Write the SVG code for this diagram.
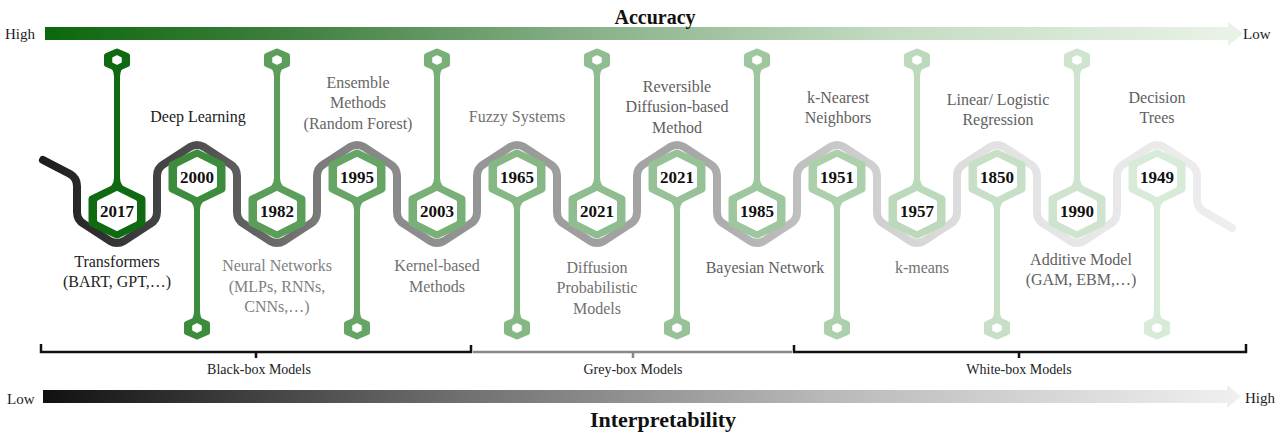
<svg xmlns="http://www.w3.org/2000/svg" xmlns:xlink="http://www.w3.org/1999/xlink" width="1284" height="437" viewBox="0 0 1284 437">
<style>
text{font-family:"Liberation Serif","Times New Roman",serif;stroke:none}
.yr{font-size:17px;font-weight:bold;fill:#111;text-anchor:middle}
.lb{font-size:16px;text-anchor:middle}
.br{font-size:14px;fill:#222;text-anchor:middle}
.end{font-size:15px;fill:#222}
.title{font-weight:bold;fill:#111;text-anchor:middle}
.ho{stroke-width:7;stroke-linejoin:round}
</style>
<defs>
<linearGradient id="gAcc" gradientUnits="userSpaceOnUse" x1="45" y1="0" x2="1243" y2="0">
<stop offset="0" stop-color="#0c680c"/><stop offset="0.2" stop-color="#3e7f3e"/><stop offset="0.45" stop-color="#88b088"/><stop offset="0.7" stop-color="#c2dbc0"/><stop offset="1" stop-color="#eaf3e8"/>
</linearGradient>
<linearGradient id="gInt" gradientUnits="userSpaceOnUse" x1="43" y1="0" x2="1241" y2="0">
<stop offset="0" stop-color="#111"/><stop offset="0.35" stop-color="#707070"/><stop offset="0.65" stop-color="#b8b8b8"/><stop offset="1" stop-color="#f0f0f0"/>
</linearGradient>
<linearGradient id="gSnake" gradientUnits="userSpaceOnUse" x1="40" y1="0" x2="1235" y2="0">
<stop offset="0" stop-color="#1c1c1c"/><stop offset="0.134" stop-color="#505050"/><stop offset="0.26" stop-color="#858585"/><stop offset="0.4" stop-color="#9a9a9a"/><stop offset="0.55" stop-color="#a8a8a8"/><stop offset="0.68" stop-color="#cccccc"/><stop offset="0.8" stop-color="#e2e2e2"/><stop offset="1" stop-color="#eeeeee"/>
</linearGradient>
<path id="hexO" class="ho" d="M0,-24 L25,-12 L25,12 L0,24 L-25,12 L-25,-12 Z"/>
<path id="hexI" fill="#fff" stroke="#fff" stroke-width="4" stroke-linejoin="round" d="M0,-18 L18,-9 L18,9 L0,18 L-18,9 L-18,-9 Z"/>
<g id="pin">
<rect x="-3" y="-146" width="6" height="126" stroke="none"/>
<path stroke="none" d="M-3,-33 Q-3,-24 -14,-19 L14,-19 Q3,-24 3,-33 Z"/>
<path stroke-width="5" stroke-linejoin="round" d="M0,-160 L10.5,-155.5 L10.5,-146.5 L0,-142 L-10.5,-146.5 L-10.5,-155.5 Z"/>
<path stroke="none" d="M-9,-146 Q-3,-142 -3,-134 L3,-134 Q3,-142 9,-146 Z"/>
<path fill="#fff" stroke="#fff" stroke-width="1.5" stroke-linejoin="round" d="M0,-155 L4,-153 L4,-149 L0,-147 L-4,-149 L-4,-153 Z"/>
</g>
</defs>
<rect width="1284" height="437" fill="#fff"/>

<g id="accuracy-axis">
<path fill="url(#gAcc)" d="M45,27 L1228,27 L1228,22 L1243,33.5 L1228,46 L1228,40 L45,40 Z"/>
<text class="title" x="655" y="24" font-size="20">Accuracy</text>
<text class="end" x="5" y="39">High</text>
<text class="end" x="1243" y="39">Low</text>
</g>

<g id="connectors">
<path fill="none" stroke="url(#gSnake)" stroke-width="8" stroke-linecap="round" stroke-linejoin="round" d="M43,160 L70,174 Q77,178 77,186 L77,212 q0,8 7,12 l26,17 q7,4 14,0 l26,-17 q7,-4 7,-12 l0,-36 q0,-8 7,-12 l26,-17 q7,-4 14,0 l26,17 q7,4 7,12 l0,36 q0,8 7,12 l26,17 q7,4 14,0 l26,-17 q7,-4 7,-12 l0,-36 q0,-8 7,-12 l26,-17 q7,-4 14,0 l26,17 q7,4 7,12 l0,36 q0,8 7,12 l26,17 q7,4 14,0 l26,-17 q7,-4 7,-12 l0,-36 q0,-8 7,-12 l26,-17 q7,-4 14,0 l26,17 q7,4 7,12 l0,36 q0,8 7,12 l26,17 q7,4 14,0 l26,-17 q7,-4 7,-12 l0,-36 q0,-8 7,-12 l26,-17 q7,-4 14,0 l26,17 q7,4 7,12 l0,36 q0,8 7,12 l26,17 q7,4 14,0 l26,-17 q7,-4 7,-12 l0,-36 q0,-8 7,-12 l26,-17 q7,-4 14,0 l26,17 q7,4 7,12 l0,36 q0,8 7,12 l26,17 q7,4 14,0 l26,-17 q7,-4 7,-12 l0,-36 q0,-8 7,-12 l26,-17 q7,-4 14,0 l26,17 q7,4 7,12 l0,36 q0,8 7,12 l26,17 q7,4 14,0 l26,-17 q7,-4 7,-12 l0,-36 q0,-8 7,-12 l26,-17 q7,-4 14,0 l26,17 q7,4 7,12 L1197,200 Q1197,207 1203,211 L1232,228"/>
</g>

<g id="n2017" fill="#0f6a12" stroke="#0f6a12">
<use xlink:href="#pin" transform="translate(117,211)"/>
<use xlink:href="#hexO" transform="translate(117,211)"/>
<use xlink:href="#hexI" transform="translate(117,211)"/>
<text class="yr" x="117" y="217">2017</text>
<text class="lb" x="117" y="267" fill="#222">Transformers</text>
<text class="lb" x="117" y="287" fill="#222">(BART, GPT,…)</text>
</g>
<g id="n2000" fill="#3d8c3d" stroke="#3d8c3d">
<use xlink:href="#pin" transform="translate(197,177) scale(1,-1)"/>
<use xlink:href="#hexO" transform="translate(197,177)"/>
<use xlink:href="#hexI" transform="translate(197,177)"/>
<text class="yr" x="197" y="183">2000</text>
<text class="lb" x="198" y="122" fill="#1a1a1a">Deep Learning</text>
</g>
<g id="n1982" fill="#5a9e5a" stroke="#5a9e5a">
<use xlink:href="#pin" transform="translate(277,211)"/>
<use xlink:href="#hexO" transform="translate(277,211)"/>
<use xlink:href="#hexI" transform="translate(277,211)"/>
<text class="yr" x="277" y="217">1982</text>
<text class="lb" x="277" y="271" fill="#808080">Neural Networks</text>
<text class="lb" x="277" y="292" fill="#808080">(MLPs, RNNs,</text>
<text class="lb" x="277" y="312" fill="#808080">CNNs,…)</text>
</g>
<g id="n1995" fill="#66a566" stroke="#66a566">
<use xlink:href="#pin" transform="translate(357,177) scale(1,-1)"/>
<use xlink:href="#hexO" transform="translate(357,177)"/>
<use xlink:href="#hexI" transform="translate(357,177)"/>
<text class="yr" x="357" y="183">1995</text>
<text class="lb" x="358" y="88" fill="#666">Ensemble</text>
<text class="lb" x="358" y="108" fill="#666">Methods</text>
<text class="lb" x="358" y="129" fill="#666">(Random Forest)</text>
</g>
<g id="n2003" fill="#78b078" stroke="#78b078">
<use xlink:href="#pin" transform="translate(437,211)"/>
<use xlink:href="#hexO" transform="translate(437,211)"/>
<use xlink:href="#hexI" transform="translate(437,211)"/>
<text class="yr" x="437" y="217">2003</text>
<text class="lb" x="437" y="271" fill="#707070">Kernel-based</text>
<text class="lb" x="437" y="292" fill="#707070">Methods</text>
</g>
<g id="n1965" fill="#86b886" stroke="#86b886">
<use xlink:href="#pin" transform="translate(517,177) scale(1,-1)"/>
<use xlink:href="#hexO" transform="translate(517,177)"/>
<use xlink:href="#hexI" transform="translate(517,177)"/>
<text class="yr" x="517" y="183">1965</text>
<text class="lb" x="517" y="122" fill="#707070">Fuzzy Systems</text>
</g>
<g id="n2021a" fill="#8fbd8f" stroke="#8fbd8f">
<use xlink:href="#pin" transform="translate(597,211)"/>
<use xlink:href="#hexO" transform="translate(597,211)"/>
<use xlink:href="#hexI" transform="translate(597,211)"/>
<text class="yr" x="597" y="217">2021</text>
<text class="lb" x="597" y="273" fill="#707070">Diffusion</text>
<text class="lb" x="597" y="293" fill="#707070">Probabilistic</text>
<text class="lb" x="597" y="314" fill="#707070">Models</text>
</g>
<g id="n2021b" fill="#97c297" stroke="#97c297">
<use xlink:href="#pin" transform="translate(677,177) scale(1,-1)"/>
<use xlink:href="#hexO" transform="translate(677,177)"/>
<use xlink:href="#hexI" transform="translate(677,177)"/>
<text class="yr" x="677" y="183">2021</text>
<text class="lb" x="677" y="92" fill="#606060">Reversible</text>
<text class="lb" x="677" y="112" fill="#606060">Diffusion-based</text>
<text class="lb" x="677" y="133" fill="#606060">Method</text>
</g>
<g id="n1985" fill="#9fc79f" stroke="#9fc79f">
<use xlink:href="#pin" transform="translate(757,211)"/>
<use xlink:href="#hexO" transform="translate(757,211)"/>
<use xlink:href="#hexI" transform="translate(757,211)"/>
<text class="yr" x="757" y="217">1985</text>
<text class="lb" x="765" y="273" fill="#606060">Bayesian Network</text>
</g>
<g id="n1951" fill="#acd0ac" stroke="#acd0ac">
<use xlink:href="#pin" transform="translate(837,177) scale(1,-1)"/>
<use xlink:href="#hexO" transform="translate(837,177)"/>
<use xlink:href="#hexI" transform="translate(837,177)"/>
<text class="yr" x="837" y="183">1951</text>
<text class="lb" x="838" y="103" fill="#606060">k-Nearest</text>
<text class="lb" x="838" y="123" fill="#606060">Neighbors</text>
</g>
<g id="n1957" fill="#bcd9bc" stroke="#bcd9bc">
<use xlink:href="#pin" transform="translate(917,211)"/>
<use xlink:href="#hexO" transform="translate(917,211)"/>
<use xlink:href="#hexI" transform="translate(917,211)"/>
<text class="yr" x="917" y="217">1957</text>
<text class="lb" x="922" y="273" fill="#707070">k-means</text>
</g>
<g id="n1850" fill="#c6dfc6" stroke="#c6dfc6">
<use xlink:href="#pin" transform="translate(997,177) scale(1,-1)"/>
<use xlink:href="#hexO" transform="translate(997,177)"/>
<use xlink:href="#hexI" transform="translate(997,177)"/>
<text class="yr" x="997" y="183">1850</text>
<text class="lb" x="998" y="105" fill="#606060">Linear/ Logistic</text>
<text class="lb" x="998" y="125" fill="#606060">Regression</text>
</g>
<g id="n1990" fill="#cfe4cf" stroke="#cfe4cf">
<use xlink:href="#pin" transform="translate(1077,211)"/>
<use xlink:href="#hexO" transform="translate(1077,211)"/>
<use xlink:href="#hexI" transform="translate(1077,211)"/>
<text class="yr" x="1077" y="217">1990</text>
<text class="lb" x="1081" y="265" fill="#606060">Additive Model</text>
<text class="lb" x="1081" y="285" fill="#606060">(GAM, EBM,…)</text>
</g>
<g id="n1949" fill="#d8ead8" stroke="#d8ead8">
<use xlink:href="#pin" transform="translate(1157,177) scale(1,-1)"/>
<use xlink:href="#hexO" transform="translate(1157,177)"/>
<use xlink:href="#hexI" transform="translate(1157,177)"/>
<text class="yr" x="1157" y="183">1949</text>
<text class="lb" x="1157" y="103" fill="#606060">Decision</text>
<text class="lb" x="1157" y="123" fill="#606060">Trees</text>
</g>

<g id="brackets" fill="none" stroke-width="2.5">
<path stroke="#111" d="M41,344 L41,352 L471,352 L471,345 M256,352 L256,358"/>
<path stroke="#888" d="M473,352 L792,352 M633,352 L633,358"/>
<path stroke="#111" d="M794,345 L794,352 L1246,352 L1246,344 M1019,352 L1019,358"/>
<text class="br" x="259" y="374">Black-box Models</text>
<text class="br" x="633" y="374">Grey-box Models</text>
<text class="br" x="1019" y="374">White-box Models</text>
</g>

<g id="interpretability-axis">
<path fill="url(#gInt)" d="M43,390 L1227,390 L1227,385 L1241,396.5 L1227,408 L1227,403 L43,403 Z"/>
<text class="end" x="7" y="404">Low</text>
<text class="end" x="1245" y="403">High</text>
<text class="title" x="663" y="427" font-size="22">Interpretability</text>
</g>
</svg>
